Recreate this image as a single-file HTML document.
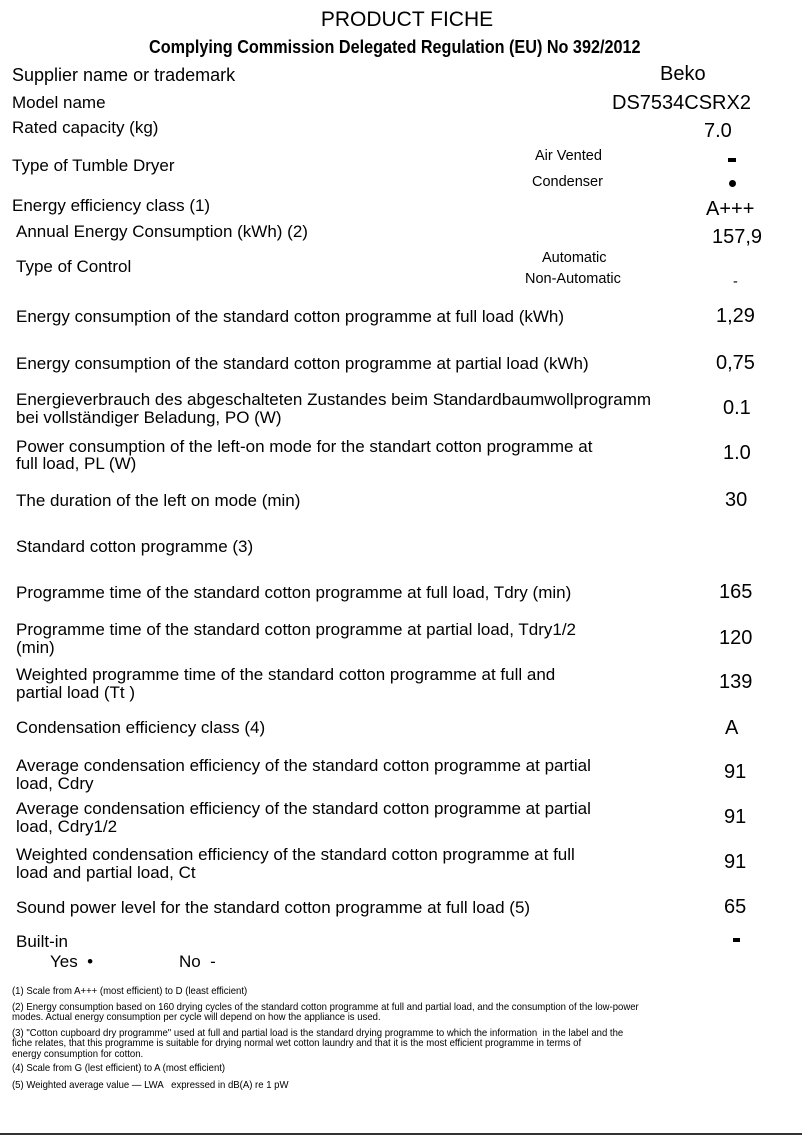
<!DOCTYPE html>
<html><head><meta charset="utf-8"><style>
body{margin:0;width:802px;height:1136px;background:#fff;position:relative;overflow:hidden;font-family:"Liberation Sans",Arial,sans-serif;color:#000}
div{position:absolute;white-space:nowrap;line-height:1}
.l{left:16px;font-size:17px}
.v{font-size:20px}
.s{font-size:14.5px}
.f{left:12px;font-size:10.5px;transform-origin:left top;transform:scaleX(0.91);line-height:10px}
</style></head><body>
<div style="left:0;width:814px;text-align:center;top:9px;font-size:21px">PRODUCT FICHE</div>
<div style="left:149px;top:38px;font-size:18px;font-weight:bold;transform-origin:left top;transform:scaleX(0.9)">Complying Commission Delegated Regulation (EU) No 392/2012</div>
<div class="l" style="left:12px;top:66px;font-size:18px">Supplier name or trademark</div>
<div class="v" style="left:660px;top:64px">Beko</div>
<div class="l" style="left:12px;top:94px">Model name</div>
<div class="v" style="left:612px;top:93px">DS7534CSRX2</div>
<div class="l" style="left:12px;top:119px">Rated capacity (kg)</div>
<div class="v" style="left:704px;top:121px">7.0</div>
<div class="l" style="left:12px;top:157px">Type of Tumble Dryer</div>
<div class="s" style="left:535px;top:149px">Air Vented</div>
<div class="s" style="left:532px;top:175px">Condenser</div>
<div style="left:728px;top:158px;width:8px;height:4px;background:#000"></div>
<div style="left:729px;top:180px;width:7px;height:7px;border-radius:50%;background:#000"></div>
<div class="l" style="left:12px;top:197px">Energy efficiency class (1)</div>
<div class="v" style="left:706px;top:199px">A+++</div>
<div class="l" style="top:223px">Annual Energy Consumption (kWh) (2)</div>
<div class="v" style="left:712px;top:227px">157,9</div>
<div class="l" style="top:258px">Type of Control</div>
<div class="s" style="left:542px;top:251px">Automatic</div>
<div class="s" style="left:525px;top:272px">Non-Automatic</div>
<div class="s" style="left:733px;top:275px">-</div>
<div class="l" style="top:308px">Energy consumption of the standard cotton programme at full load (kWh)</div>
<div class="v" style="left:716px;top:306px">1,29</div>
<div class="l" style="top:355px">Energy consumption of the standard cotton programme at partial load (kWh)</div>
<div class="v" style="left:716px;top:353px">0,75</div>
<div class="l" style="top:391px">Energieverbrauch des abgeschalteten Zustandes beim Standardbaumwollprogramm</div>
<div class="l" style="top:409px">bei vollständiger Beladung, PO (W)</div>
<div class="v" style="left:723px;top:398px">0.1</div>
<div class="l" style="top:438px">Power consumption of the left-on mode for the standart cotton programme at</div>
<div class="l" style="top:455px">full load, PL (W)</div>
<div class="v" style="left:723px;top:443px">1.0</div>
<div class="l" style="top:492px">The duration of the left on mode (min)</div>
<div class="v" style="left:725px;top:490px">30</div>
<div class="l" style="top:538px">Standard cotton programme (3)</div>
<div class="l" style="top:584px">Programme time of the standard cotton programme at full load, Tdry (min)</div>
<div class="v" style="left:719px;top:582px">165</div>
<div class="l" style="top:621px">Programme time of the standard cotton programme at partial load, Tdry1/2</div>
<div class="l" style="top:639px">(min)</div>
<div class="v" style="left:719px;top:628px">120</div>
<div class="l" style="top:666px">Weighted programme time of the standard cotton programme at full and</div>
<div class="l" style="top:684px">partial load (Tt )</div>
<div class="v" style="left:719px;top:672px">139</div>
<div class="l" style="top:719px">Condensation efficiency class (4)</div>
<div class="v" style="left:725px;top:718px">A</div>
<div class="l" style="top:757px">Average condensation efficiency of the standard cotton programme at partial</div>
<div class="l" style="top:775px">load, Cdry</div>
<div class="v" style="left:724px;top:762px">91</div>
<div class="l" style="top:800px">Average condensation efficiency of the standard cotton programme at partial</div>
<div class="l" style="top:818px">load, Cdry1/2</div>
<div class="v" style="left:724px;top:807px">91</div>
<div class="l" style="top:846px">Weighted condensation efficiency of the standard cotton programme at full</div>
<div class="l" style="top:864px">load and partial load, Ct</div>
<div class="v" style="left:724px;top:852px">91</div>
<div class="l" style="top:899px">Sound power level for the standard cotton programme at full load (5)</div>
<div class="v" style="left:724px;top:897px">65</div>
<div class="l" style="top:933px">Built-in</div>
<div style="left:733px;top:938px;width:7px;height:4px;background:#000"></div>
<div class="l" style="left:50px;top:953px">Yes &nbsp;•</div>
<div class="l" style="left:179px;top:953px">No &nbsp;-</div>
<div class="f" style="top:986px">(1) Scale from A+++ (most efficient) to D (least efficient)</div>
<div class="f" style="top:1002px">(2) Energy consumption based on 160 drying cycles of the standard cotton programme at full and partial load, and the consumption of the low-power<br>modes. Actual energy consumption per cycle will depend on how the appliance is used.</div>
<div class="f" style="top:1028px">(3) "Cotton cupboard dry programme" used at full and partial load is the standard drying programme to which the information &nbsp;in the label and the<br>fiche relates, that this programme is suitable for drying normal wet cotton laundry and that it is the most efficient programme in terms of</div>
<div class="f" style="top:1049px">energy consumption for cotton.</div>
<div class="f" style="top:1063px">(4) Scale from G (lest efficient) to A (most efficient)</div>
<div class="f" style="top:1080px">(5) Weighted average value — LWA &nbsp;&nbsp;expressed in dB(A) re 1 pW</div>
<div style="left:0;top:1133px;width:802px;height:2px;background:#333"></div>
</body></html>
